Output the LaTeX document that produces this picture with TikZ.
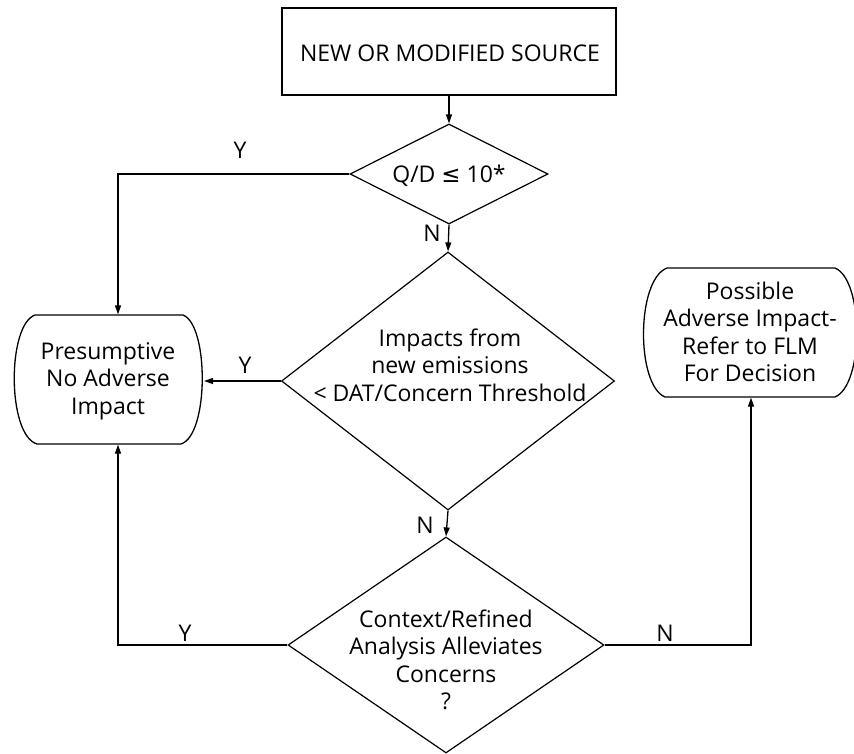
\documentclass[tikz,border=0pt]{standalone}
\usepackage{fontspec}
\setmainfont{Open Sans}
\newfontfamily\symf{DejaVu Sans}
\usetikzlibrary{shapes.geometric,arrows.meta}
\begin{document}
\begin{tikzpicture}[x=1pt,y=-1pt,
  line width=1.3pt,
  txt/.style={font=\fontsize{23}{27.5}\selectfont, align=center, inner sep=0pt},
  dia/.style={draw, diamond, inner sep=0pt, line width=1.2pt},
  arr/.style={-{Triangle[length=9pt,width=6pt]}},
  lbl/.style={font=\fontsize{23}{27}\selectfont, inner sep=0pt}]
\useasboundingbox (0,0) rectangle (854,753);
% source box
\node[draw, minimum width=334pt, minimum height=87pt, inner sep=0pt] (src) at (449,51.5) {};
\node[txt] (srct) at (450,53) {NEW OR MODIFIED SOURCE};
% diamonds
\node[dia, minimum width=198pt, minimum height=100pt] (d1) at (449,174) {};
\node[txt] (d1t) at (449,176) {Q/D {\symf ≤} 10*};
\node[dia, minimum width=333pt, minimum height=258pt] (d2) at (448,381) {};
\node[txt] (d2t) at (450,365) {Impacts from\\new emissions\\< DAT/Concern Threshold};
\node[dia, minimum width=316pt, minimum height=216pt] (d3) at (446,645) {};
\node[txt] (d3t) at (446,660) {Context/Refined\\Analysis Alleviates\\Concerns\\?};
% terminal boxes
\node[minimum width=190pt, minimum height=129pt, inner sep=0pt] (pna) at (108,379.5) {};
\draw (35,315) -- (183,315) .. controls (209,325) and (209,435) .. (181,444)
  -- (37,444) .. controls (7,435) and (7,325) .. cycle;
\node[txt] (pnat) at (108,381) {Presumptive\\No Adverse\\Impact};
\node[minimum width=216pt, minimum height=129pt, inner sep=0pt] (poss) at (750,332.5) {};
\draw (667,268) -- (835,268) .. controls (864,280) and (864,385) .. (835,397)
  -- (665,397) .. controls (636,385) and (636,280) .. cycle;
\node[txt] (posst) at (750,332) {Possible\\Adverse Impact-\\Refer to FLM\\For Decision};
% connectors
\coordinate (cl) at (118,0);
\coordinate (cr) at (751,0);
\draw[arr] (src.south) -- (d1.north);
\draw[arr] (d1.south) -- (d2.north);
\draw[arr] (d2.south) -- (d3.north);
\draw[arr] (d1.west) -| (cl |- pna.north);
\draw[arr] (d2.west) -- (d2.west -| 204,0);
\draw[arr] (d3.west) -| (cl |- pna.south);
\draw[arr] (d3.east) -| (cr |- poss.south);
% labels
\node[lbl] (y1) at (240,150) {Y};
\node[lbl] (n1) at (432,233) {N};
\node[lbl] (y2) at (245,365) {Y};
\node[lbl] (n2) at (425,525) {N};
\node[lbl] (y3) at (185,633) {Y};
\node[lbl] (n3) at (665,633) {N};
\end{tikzpicture}
\end{document}
